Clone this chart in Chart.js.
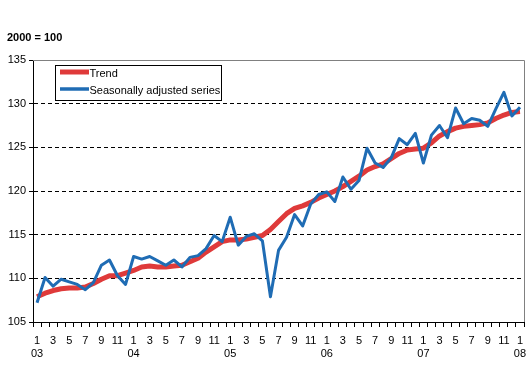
<!DOCTYPE html>
<html>
<head>
<meta charset="utf-8">
<script src="https://cdn.jsdelivr.net/npm/chart.js@4/dist/chart.umd.min.js"></script>
<style>
html,body{margin:0;padding:0;background:#fff;}
#wrap{position:relative;width:529px;height:366px;}
</style>
</head>
<body>
<div id="wrap"><canvas id="c" width="529" height="366"></canvas></div>
<script>
// ---- data ----
const yearLabels = ['03','04','05','06','07','08'];
const monthLabels = ['1','2','3','4','5','6','7','8','9','10','11','12'];
const categories = [];
for (let y = 0; y < yearLabels.length; y++) {
  for (let m = 0; m < 12; m++) {
    if (y === yearLabels.length - 1 && m > 0) break;
    categories.push(monthLabels[m] + '/' + yearLabels[y]);
  }
}
const trend = [
  107.9,108.3,108.6,108.8,108.9,108.9,109.0,109.4,109.9,110.3,110.3,110.6,
  110.9,111.3,111.4,111.3,111.3,111.4,111.5,111.9,112.3,113.0,113.6,114.2,
  114.4,114.4,114.5,114.7,114.9,115.6,116.5,117.4,118.0,118.3,118.7,119.2,
  119.6,120.0,120.5,121.1,121.7,122.4,122.8,123.1,123.7,124.3,124.7,124.8,
  124.9,125.5,126.3,126.8,127.2,127.4,127.5,127.6,127.8,128.3,128.7,129.0,
  129.1
];
const seasonal = [
  107.2,110.1,109.1,109.9,109.6,109.3,108.7,109.5,111.5,112.1,110.3,109.3,
  112.5,112.2,112.5,112.0,111.5,112.1,111.3,112.4,112.6,113.4,114.9,114.2,
  117.0,113.8,114.8,115.1,114.3,107.9,113.2,114.7,117.3,116.0,118.5,119.6,
  119.9,118.8,121.6,120.2,121.2,124.9,123.2,122.7,123.8,126.0,125.3,126.6,
  123.2,126.4,127.5,126.1,129.5,127.7,128.3,128.1,127.4,129.4,131.3,128.6,
  129.6
];
const yTicks = [105,110,115,120,125,130,135];
const seriesNames = ['Trend','Seasonally adjusted series'];
const unitTitle = '2000 = 100';

const RED = '#df3a3a';
const BLUE = '#1f6cb4';
const FONT = '"Liberation Sans", Arial, sans-serif';

const frame = {
  id: 'frame',
  afterDraw(chart) {
    const {ctx, chartArea: a} = chart;
    ctx.save();
    ctx.strokeStyle = '#808080';
    ctx.lineWidth = 1;
    ctx.beginPath();
    ctx.moveTo(a.left, a.top + 0.5);
    ctx.lineTo(Math.round(a.right) + 0.5, a.top + 0.5);
    ctx.lineTo(Math.round(a.right) + 0.5, a.bottom);
    ctx.stroke();
    ctx.fillStyle = '#000';
    ctx.font = 'bold 11px ' + FONT;
    ctx.textBaseline = 'middle';
    ctx.textAlign = 'left';
    ctx.fillText(unitTitle, 7, 38);
    const bx = 55.5, by = 65.5, bw = 166, bh = 35;
    ctx.fillStyle = '#fff';
    ctx.fillRect(bx, by, bw, bh);
    ctx.strokeStyle = '#000';
    ctx.strokeRect(bx, by, bw, bh);
    const colors = [RED, BLUE];
    const widths = [5, 3.5];
    const ys = [73, 90];
    ctx.font = '11px ' + FONT;
    for (let i = 0; i < seriesNames.length; i++) {
      ctx.strokeStyle = colors[i];
      ctx.lineWidth = widths[i];
      ctx.beginPath();
      ctx.moveTo(60, ys[i] - 1);
      ctx.lineTo(89, ys[i] - 1);
      ctx.stroke();
      ctx.fillStyle = '#000';
      ctx.fillText(seriesNames[i], 89.5, ys[i] + 1);
    }
    ctx.restore();
  }
};

new Chart(document.getElementById('c'), {
  type: 'line',
  data: {
    labels: categories,
    datasets: [
      { label: seriesNames[0], data: trend, borderColor: RED, borderWidth: 5,
        pointRadius: 0, tension: 0, order: 2, borderJoinStyle: 'round' },
      { label: seriesNames[1], data: seasonal, borderColor: BLUE, borderWidth: 3,
        pointRadius: 0, tension: 0, order: 1, borderJoinStyle: 'round' }
    ]
  },
  options: {
    responsive: false,
    animation: false,
    devicePixelRatio: 1,
    layout: { padding: { top: 60, right: 0, left: 0, bottom: 0 } },
    plugins: { legend: { display: false }, tooltip: { enabled: false }, title: { display: false } },
    scales: {
      x: {
        type: 'category',
        offset: true,
        grid: { offset: true, drawOnChartArea: false, drawTicks: true, tickLength: 5, tickColor: '#000', tickWidth: 1 },
        border: { display: true, color: '#000', width: 1 },
        ticks: {
          autoSkip: false, maxRotation: 0, minRotation: 0, padding: 7,
          color: '#000', font: { family: FONT, size: 11 }, lineHeight: 1.2,
          callback: function(v, i) {
            if (i % 2 !== 0) return '';
            const parts = categories[i].split('/');
            if (parts[0] === '1') return [parts[0], parts[1]];
            return parts[0];
          }
        },
        afterFit(s) { s.height = 44; s.paddingRight = 5; }
      },
      y: {
        min: 105, max: 135,
        afterBuildTicks(s) { s.ticks = yTicks.map(v => ({ value: v })); },
        grid: {
          color: (c) => (c.tick && c.tick.value > 105 && c.tick.value < 135) ? '#000' : 'rgba(0,0,0,0)',
          lineWidth: 1, drawTicks: true, tickLength: 4, tickColor: '#000', tickBorderDash: []
        },
        border: { display: true, color: '#000', width: 1, dash: [4, 3] },
        ticks: { color: '#000', font: { family: FONT, size: 11 }, padding: 3 },
        afterFit(s) { s.width = 33; }
      }
    }
  },
  plugins: [frame]
});
</script>
</body>
</html>
